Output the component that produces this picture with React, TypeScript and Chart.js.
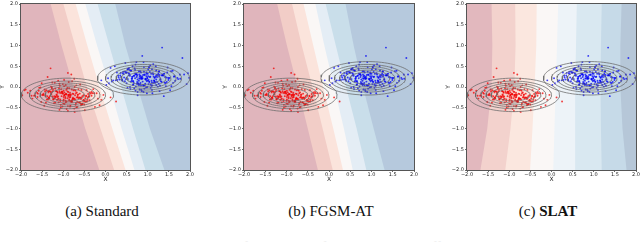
import React, { useEffect, useRef } from "react";
import { Chart, registerables } from "chart.js";
Chart.register(...registerables);

// ---------- data ----------
const tickValues = [-2, -1.5, -1, -0.5, 0, 0.5, 1, 1.5, 2];
const yLevels = [2, 1, 0, -1, -2];

// decision-boundary contour edges: x position at each y in yLevels
const standardBounds = [
  [-1.31, -1.04, -0.76, -0.48, -0.13],
  [-1.01, -0.72, -0.44, -0.12, 0.22],
  [-0.72, -0.43, -0.14, 0.16, 0.49],
  [-0.49, -0.2, 0.1, 0.38, 0.7],
  [-0.2, 0.09, 0.37, 0.65, 0.96],
  [0.22, 0.47, 0.76, 1.05, 1.41],
];
const standardColors = ["#e0b5bc", "#f2cdc7", "#fbe4dc", "#faf7f6", "#e4edf5", "#c9deea", "#b6c9dd"];

const fgsmBounds = [
  [-1.23, -0.99, -0.74, -0.5, -0.25],
  [-0.88, -0.64, -0.39, -0.15, 0.1],
  [-0.61, -0.37, -0.14, 0.1, 0.34],
  [-0.33, -0.11, 0.12, 0.35, 0.57],
  [-0.09, 0.16, 0.4, 0.65, 0.89],
  [0.38, 0.58, 0.8, 1.05, 1.32],
];
const fgsmColors = ["#e0b5bc", "#f2cdc7", "#fbe4dc", "#faf7f6", "#e4edf5", "#c9deea", "#b6c9dd"];

const slatBounds = [
  [-1.42, -1.4, -1.42, -1.52, -1.69],
  [-0.86, -0.85, -0.88, -0.97, -1.1],
  [-0.35, -0.36, -0.4, -0.45, -0.51],
  [0.16, 0.13, 0.1, 0.07, 0.04],
  [0.6, 0.58, 0.56, 0.56, 0.56],
  [1.19, 1.17, 1.16, 1.17, 1.19],
  [1.66, 1.63, 1.63, 1.68, 1.78],
];
const slatColors = ["#e2b8be", "#f3d2cd", "#fbe7df", "#faf7f6", "#edf3f8", "#d9e8f1", "#c6dae8", "#b6c7d8"];

// training data (class 0, red)
const redX = [
  -0.92, -1.15, -0.71, -1.38, -0.55, -0.98, -1.22, -0.84, -0.47, -1.05,
  -1.61, -0.66, -0.89, -1.31, -0.78, -0.33, -1.09, -0.95, -1.47, -0.61,
  -0.86, -1.19, -0.52, -1.02, -0.74, -1.73, -0.93, -0.41, -1.26, -0.81,
  -1.12, -0.68, -0.99, -1.54, -0.58, -0.87, -1.35, -0.76, -0.21, -1.07,
  -0.94, -1.42, -0.63, -1.17, -0.83, -0.49, -1.28, -0.72, -1.89, -0.97,
  -0.56, -1.08, -0.79, -1.33, -0.38, -0.91, -1.21, -0.67, -1.01, -1.58,
  -0.85, -0.44, -1.14, -0.73, -1.36, -0.96, -0.59, -1.24, -0.88, -0.27,
  -1.11, -0.69, -1.45, -0.82, -1.03, -0.53, -1.67, -0.77, -0.98, -1.29,
  -0.62, -0.9, -1.18, -0.35, -1.06, -0.75, -1.4, -0.84, -0.5, -1.13,
  -0.95, -1.51, -0.65, -1.0, -0.8, -1.25, -0.43, -0.88, -1.97, -0.71,
  -1.16, -0.57, -0.93, -1.37, -0.79, -1.04, -0.64, -1.23, -0.31, -0.89,
  -1.48, -0.74, -1.1, -0.54, -0.97, -1.3, -0.68, -0.86, -1.78, -0.46,
  -1.02, -0.78, -1.2, -0.6, -0.92, -1.43, -0.39, -1.07, -0.83, -1.27,
  -0.7, -0.99, -1.62, -0.51, -0.87, -1.15, -0.73, -0.14, -1.34, -0.94,
  -0.58, -1.09, -0.81, -1.52, -0.66, -1.01, -0.25, -1.19, -0.9, -0.05,
  -1.04, -0.63, -1.29, -0.8, -1.5, -0.45, -0.97, -1.18, -0.7, -1.39,
  -0.88, -0.29, -1.11, -0.6, -1.33, -0.83, -1.69, -0.52, -1.01, -0.76,
  -1.24, -0.92, -0.37, -1.14, -0.67, -1.57, -0.86, -1.06, -0.55, -1.84,
  -0.79, -1.2, -0.42, -0.99, -1.41, -0.72, -0.18, -1.09, -0.9, -1.32,
  -0.61, -1.0, -1.27, -0.48, -0.84, -1.46, -0.74, -1.13, -0.33, -0.95,
  -1.22, -0.57, -1.75, -0.82, -1.05, -0.65, -0.1, -1.36, -0.89, -0.5,
  -1.16, -0.77, -1.44, -0.94, -0.4, -1.08, -0.69, -1.6, -0.86, -1.26,
  0.12, -0.98, -0.59, -1.35, -0.81, -1.12, -0.46, -1.92, -0.73, 0.25,
];
const redY = [
  -0.18, -0.31, -0.09, -0.22, -0.4, 0.02, -0.27, -0.14, -0.35, -0.05,
  -0.24, -0.19, -0.46, -0.11, -0.29, -0.21, 0.08, -0.33, -0.16, -0.25,
  -0.03, -0.38, -0.2, -0.12, -0.52, -0.28, -0.07, -0.17, 0.11, -0.36,
  -0.23, -0.13, -0.3, -0.01, -0.44, -0.19, -0.26, -0.08, -0.15, -0.34,
  0.05, -0.21, -0.37, -0.1, -0.24, -0.56, -0.17, -0.3, -0.06, -0.2,
  -0.42, -0.14, 0.14, -0.27, -0.32, -0.04, -0.22, -0.48, -0.16, -0.09,
  -0.25, -0.35, -0.12, 0.0, -0.3, -0.18, -0.39, -0.07, -0.23, -0.15,
  -0.28, 0.04, -0.45, -0.19, -0.11, -0.33, -0.2, -0.26, 0.17, -0.13,
  -0.37, -0.02, -0.24, -0.16, -0.5, -0.29, -0.08, -0.21, -0.34, -0.14,
  -0.27, 0.09, -0.18, -0.4, -0.06, -0.23, -0.31, -0.12, -0.2, -0.43,
  -0.1, -0.26, -0.17, 0.24, -0.36, -0.22, -0.05, -0.3, -0.15, -0.58,
  -0.19, -0.28, -0.03, -0.41, -0.13, 0.45, -0.25, -0.33, -0.09, -0.21,
  -0.47, -0.16, -0.27, 0.06, -0.35, -0.11, -0.22, -0.3, -0.18, -0.01,
  -0.39, -0.24, -0.14, -0.32, 0.12, -0.2, -0.07, -0.44, -0.26, -0.17,
  -0.29, -0.1, 0.3, -0.36, -0.23, -0.15, -0.48, -0.04, -0.27, -0.19,
  -0.12, -0.27, 0.01, -0.34, -0.19, -0.08, -0.41, -0.23, -0.15, -0.3,
  -0.2, -0.05, -0.37, -0.26, -0.1, -0.45, -0.21, -0.31, 0.07, -0.17,
  -0.29, -0.53, -0.13, -0.24, -0.36, -0.02, -0.18, -0.43, -0.22, -0.14,
  -0.32, 0.1, -0.25, -0.09, -0.38, -0.2, -0.28, -0.55, -0.11, -0.22,
  -0.16, -0.33, -0.04, -0.27, -0.47, -0.19, 0.2, -0.3, -0.12, -0.24,
  -0.39, -0.07, -0.21, -0.34, -0.15, -0.26, -0.31, -0.1, 0.34, -0.42,
  -0.18, -0.28, -0.06, -0.37, -0.23, 0.03, -0.49, -0.16, -0.3, -0.11,
  -0.25, -0.2, -0.4, -0.13, -0.33, 0.15, -0.22, -0.08, -0.6, -0.35,
];
// training data (class 1, blue)
const blueX = [
  0.88, 1.12, 0.67, 1.41, 0.53, 0.96, 1.24, 0.79, 0.45, 1.07,
  1.63, 0.62, 0.91, 1.33, 0.74, 0.31, 1.1, 0.97, 1.49, 0.58,
  0.84, 1.2, 0.5, 1.03, 0.71, 1.76, 0.94, 0.39, 1.28, 0.82,
  1.14, 0.65, 1.0, 1.56, 0.56, 0.86, 1.37, 0.77, 0.18, 1.05,
  0.92, 1.44, 0.61, 1.18, 0.81, 0.47, 1.3, 0.7, 1.92, 0.99,
  0.54, 1.09, 0.76, 1.35, 0.36, 0.89, 1.22, 0.64, 1.02, 1.6,
  0.83, 0.42, 1.16, 0.72, 1.39, 0.95, 0.57, 1.26, 0.87, 0.24,
  1.13, 0.68, 1.47, 0.8, 1.04, 0.51, 1.7, 0.75, 0.98, 1.31,
  0.6, 0.9, 1.19, 0.33, 1.06, 0.73, 1.42, 0.85, 0.48, 1.15,
  0.93, 1.53, 0.63, 1.01, 0.78, 1.27, 0.41, 0.88, 1.98, 0.69,
  1.17, 0.55, 0.95, 1.38, 0.79, 1.05, 0.66, 1.25, 0.28, 0.9,
  1.5, 0.72, 1.11, 0.52, 0.98, 1.34, 0.67, 0.84, 1.82, 0.44,
  1.03, 0.76, 1.21, 0.59, 0.91, 1.45, 0.37, 1.08, 0.82, 1.29,
  0.7, 0.97, 1.65, 0.49, 0.86, 1.16, 0.74, 0.12, 1.36, 0.94,
  0.57, 1.1, 0.8, 1.55, 0.64, 1.0, 0.22, 1.2, 0.89, 0.06,
  1.01, 0.6, 1.27, 0.79, 1.52, 0.43, 0.99, 1.2, 0.68, 1.4,
  0.86, 0.27, 1.09, 0.62, 1.35, 0.81, 1.72, 0.5, 1.03, 0.74,
  1.22, 0.9, 0.35, 1.15, 0.65, 1.59, 0.84, 1.07, 0.53, 1.86,
  0.77, 1.19, 0.4, 0.97, 1.43, 0.7, 0.15, 1.11, 0.92, 1.3,
  0.63, 1.02, 1.26, 0.46, 0.85, 1.48, 0.73, 1.14, 0.3, 0.96,
  1.24, 0.55, 1.77, 0.8, 1.06, 0.66, 0.08, 1.37, 0.87, 0.52,
  1.17, 0.75, 1.46, 0.93, 0.38, 1.1, 0.71, 1.62, 0.83, 1.28,
  -0.1, 0.99, 0.58, 1.33, 0.82, 1.13, 0.48, 1.95, 0.76, 0.02,
];
const blueY = [
  0.21, 0.33, 0.1, 0.24, 0.42, -0.01, 0.29, 0.15, 0.37, 0.06,
  0.26, 0.2, 0.48, 0.12, 0.31, 0.23, -0.07, 0.35, 0.17, 0.27,
  0.04, 0.4, 0.22, 0.13, 0.54, 0.3, 0.08, 0.18, -0.1, 0.38,
  0.25, 0.14, 0.32, 0.02, 0.46, 0.2, 0.28, 0.09, 0.16, 0.36,
  -0.04, 0.23, 0.39, 0.11, 0.26, 0.58, 0.19, 0.32, 0.07, 0.22,
  0.44, 0.15, -0.12, 0.29, 0.34, 0.05, 0.24, 0.5, 0.17, 0.1,
  0.27, 0.37, 0.13, 0.01, 0.32, 0.2, 0.41, 0.08, 0.25, 0.16,
  0.3, -0.03, 0.47, 0.21, 0.12, 0.35, 0.22, 0.28, -0.15, 0.14,
  0.39, 0.03, 0.26, 0.18, 0.52, 0.31, 0.09, 0.23, 0.36, 0.15,
  0.29, -0.08, 0.2, 0.42, 0.07, 0.25, 0.33, 0.13, 0.22, 0.45,
  0.11, 0.28, 0.19, -0.22, 0.38, 0.24, 0.06, 0.32, 0.17, 0.6,
  0.21, 0.3, 0.04, 0.43, 0.14, 0.95, 0.27, 0.35, 0.7, 0.23,
  0.49, 0.18, 0.29, -0.05, 0.37, 0.12, 0.24, 0.32, 0.2, 0.03,
  0.41, 0.26, 0.15, 0.34, -0.1, 0.22, 0.08, 0.46, 0.28, 0.19,
  0.31, 0.11, 0.3, 0.38, 0.25, 0.16, 0.5, 0.05, 0.29, 0.21,
  0.26, 0.13, 0.38, 0.05, 0.22, 0.31, 0.0, 0.18, 0.27, 0.11,
  0.2, 0.35, 0.03, 0.15, 0.29, -0.06, 0.19, 0.09, 0.47, 0.24,
  0.12, -0.12, 0.28, 0.16, 0.05, 0.39, 0.23, -0.02, 0.19, 0.3,
  0.08, 0.5, 0.15, 0.32, 0.02, 0.21, 0.13, -0.15, 0.3, 0.18,
  0.24, 0.07, 0.37, 0.14, -0.07, 0.22, 0.6, 0.1, 0.27, 0.17,
  0.01, 0.33, 0.2, 0.06, 0.25, 0.14, 0.09, 0.31, 0.75, -0.02,
  0.23, 0.12, 0.35, 0.04, 0.18, 0.43, -0.09, 0.25, 0.1, 0.29,
  0.16, 0.21, 0.0, 0.28, 0.07, 0.55, 0.19, 0.33, -0.2, 0.05,
];

// density contour ellipses of the two Gaussians
const contourCenters = [
  [-0.9, -0.19],
  [0.9, 0.21],
];
const contourRadii = [1.09, 0.9, 0.77, 0.65, 0.53, 0.4];
const contourAspect = 0.37;

// ---------- helpers ----------
function ellipsePoints(cx: number, cy: number, a: number) {
  const pts: { x: number; y: number }[] = [];
  const n = 90;
  for (let k = 0; k <= n; k++) {
    const t = (k / n) * Math.PI * 2;
    pts.push({ x: cx + a * Math.cos(t), y: cy + a * contourAspect * Math.sin(t) });
  }
  return pts;
}

const fmt = (v: number) => (v < 0 ? "\u2212" : "") + Math.abs(v).toFixed(1);

const bandPlugin = {
  id: "bands",
  beforeDatasetsDraw(chart: any, _args: any, opts: any) {
    const { ctx, chartArea, scales } = chart;
    const xs = scales.x;
    const ys = scales.y;
    const bounds: number[][] = opts.bounds;
    const colors: string[] = opts.colors;
    ctx.save();
    ctx.beginPath();
    ctx.rect(chartArea.left, chartArea.top, chartArea.width, chartArea.height);
    ctx.clip();
    const edges = [yLevels.map(() => -3), ...bounds];
    for (let i = 0; i < colors.length; i++) {
      const e = edges[i];
      ctx.beginPath();
      yLevels.forEach((yv, k) => {
        const px = xs.getPixelForValue(e[k]);
        const py = ys.getPixelForValue(yv);
        if (k === 0) ctx.moveTo(px, py - 2);
        else if (k === yLevels.length - 1) ctx.lineTo(px, py + 2);
        else ctx.lineTo(px, py);
      });
      ctx.lineTo(xs.getPixelForValue(3), ys.getPixelForValue(yLevels[yLevels.length - 1]) + 2);
      ctx.lineTo(xs.getPixelForValue(3), ys.getPixelForValue(yLevels[0]) - 2);
      ctx.closePath();
      ctx.fillStyle = colors[i];
      ctx.fill();
    }
    ctx.restore();
  },
  afterDraw(chart: any) {
    const { ctx, chartArea } = chart;
    ctx.save();
    ctx.strokeStyle = "#555";
    ctx.lineWidth = 1;
    ctx.strokeRect(chartArea.left - 0.5, chartArea.top - 0.5, chartArea.width + 1, chartArea.height + 1);
    ctx.restore();
  },
};

type PanelProps = {
  plotLeft: number;
  plotRight: number;
  bounds: number[][];
  colors: string[];
};

const Y_AXIS_W = 22;
const X_AXIS_H = 13;
const PLOT_TOP = 2;
const PLOT_BOTTOM = 170;

function Panel({ plotLeft, plotRight, bounds, colors }: PanelProps) {
  const ref = useRef<HTMLCanvasElement | null>(null);
  const rightPad = Math.min(6, 640 - plotRight);
  const width = plotRight - plotLeft + Y_AXIS_W + rightPad;
  const height = PLOT_BOTTOM + X_AXIS_H;

  useEffect(() => {
    if (!ref.current) return;
    const ellipseSets: any[] = [];
    contourCenters.forEach(([cx, cy]) => {
      contourRadii.forEach((a) => {
        ellipseSets.push({
          data: ellipsePoints(cx, cy, a),
          showLine: true,
          borderColor: "rgba(105,105,105,0.85)",
          borderWidth: 0.9,
          pointRadius: 0,
          fill: false,
          clip: 0,
        });
      });
    });
    const redPts = redX.map((x, i) => ({ x, y: redY[i] }));
    const bluePts = blueX.map((x, i) => ({ x, y: blueY[i] }));
    const tickFont = { family: "DejaVu Sans", size: 5 };
    const axisCommon = {
      type: "linear" as const,
      min: -2,
      max: 2,
      afterBuildTicks: (scale: any) => {
        scale.ticks = tickValues.map((v) => ({ value: v }));
      },
      border: { display: false },
      grid: { drawOnChartArea: false, drawTicks: true, tickLength: 2, color: "#444", lineWidth: 0.8 },
    };
    const chart = new Chart(ref.current, {
      type: "scatter",
      data: {
        datasets: [
          ...ellipseSets,
          {
            data: redPts,
            backgroundColor: "rgba(240,0,0,0.75)",
            borderWidth: 0,
            pointRadius: 0.95,
            clip: 0,
          },
          {
            data: bluePts,
            backgroundColor: "rgba(0,0,245,0.75)",
            borderWidth: 0,
            pointRadius: 0.95,
            clip: 0,
          },
        ],
      },
      options: {
        animation: false,
        responsive: false,
        maintainAspectRatio: false,
        events: [],
        layout: { padding: { left: 0, right: rightPad, top: PLOT_TOP, bottom: 0 } },
        plugins: {
          legend: { display: false },
          tooltip: { enabled: false },
          bands: { bounds, colors },
        } as any,
        scales: {
          x: {
            ...axisCommon,
            position: "bottom",
            ticks: { font: tickFont, color: "#222", padding: 0, maxRotation: 0, autoSkip: false, callback: (v: any) => fmt(Number(v)) },
            title: { display: true, text: "X", font: { family: "DejaVu Sans", size: 6 }, color: "#222", padding: 0 },
            afterFit: (s: any) => {
              s.height = X_AXIS_H;
              s.paddingLeft = 0;
              s.paddingRight = 0;
            },
          },
          y: {
            ...axisCommon,
            position: "left",
            ticks: { font: tickFont, color: "#222", padding: 1, autoSkip: false, callback: (v: any) => fmt(Number(v)) },
            title: { display: true, text: "Y", font: { family: "DejaVu Sans", size: 6 }, color: "#222", padding: 0 },
            afterFit: (s: any) => {
              s.width = Y_AXIS_W;
              s.paddingTop = 0;
              s.paddingBottom = 0;
            },
          },
        },
      },
      plugins: [bandPlugin],
    } as any);
    return () => chart.destroy();
  }, []);

  return (
    <canvas
      ref={ref}
      width={width}
      height={height}
      style={{ position: "absolute", left: plotLeft - Y_AXIS_W, top: 0, width, height }}
    />
  );
}

const serif = "\"Liberation Serif\", \"Times New Roman\", Times, serif";

const captionStyle: React.CSSProperties = {
  position: "absolute",
  top: 203,
  width: 200,
  textAlign: "center",
  fontFamily: serif,
  fontSize: 15,
  lineHeight: "17px",
  color: "#111",
  whiteSpace: "nowrap",
};

export default function App() {
  return (
    <div style={{ position: "absolute", left: 0, top: 0, width: 640, height: 242, overflow: "hidden", background: "#fff" }}>
      <Panel plotLeft={21} plotRight={190} bounds={standardBounds} colors={standardColors} />
      <Panel plotLeft={244} plotRight={414} bounds={fgsmBounds} colors={fgsmColors} />
      <Panel plotLeft={467} plotRight={636} bounds={slatBounds} colors={slatColors} />
      <div style={{ ...captionStyle, left: 102 - 100 }}>(a) Standard</div>
      <div style={{ ...captionStyle, left: 331 - 100 }}>(b) FGSM-AT</div>
      <div style={{ ...captionStyle, left: 548 - 100 }}>
        (c) <b>SLAT</b>
      </div>
      <div
        style={{
          position: "absolute",
          left: 72,
          top: 239.5,
          fontFamily: serif,
          fontSize: 14,
          lineHeight: "16px",
          color: "#ececec",
          whiteSpace: "nowrap",
        }}
      >
        Figure 3: Decision boundary of binary classifiers trained with different methods.
      </div>
    </div>
  );
}
